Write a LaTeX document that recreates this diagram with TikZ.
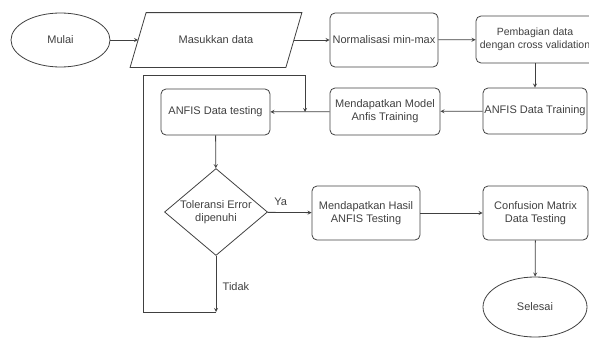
\documentclass[tikz,border=0pt]{standalone}
\usepackage{fontspec}
\setmainfont{Liberation Sans}
\usetikzlibrary{shapes.geometric}

\tikzset{
	proses/.style={draw=black!75, rounded corners=5pt, align=center, inner sep=1pt},
	terminal/.style={draw=black!75, ellipse, inner sep=0pt},
	data/.style={inner sep=0pt},
	keputusan/.style={draw=black!75, diamond, aspect=1.2, inner sep=0pt, align=center},
	garis/.style={->, draw=black!75},
}

\begin{document}
\begin{tikzpicture}[x=1pt, y=-1pt, >=stealth, line width=0.8pt,
	every node/.style={font=\fontsize{11}{13}\selectfont, text=black!75}]
	\useasboundingbox (0,0) rectangle (589,340);

	% 1. Baris atas
	\node[terminal, minimum width=99pt, minimum height=54pt] (mulai) at (60.5,40) {Mulai};
	\node[data, minimum width=155pt, minimum height=54pt] (masukan) at (216,40) {Masukkan data};
	\draw[draw=black!75] ([xshift=-8pt]masukan.south west) -- ([xshift=8pt]masukan.north west)
		-- ([xshift=8pt]masukan.north east) -- ([xshift=-8pt]masukan.south east) -- cycle;
	\node[proses, minimum width=108pt, minimum height=54pt] (normal) at (384,40) {Normalisasi min-max};
	\node[proses, minimum width=118pt, minimum height=47pt, font=\fontsize{10.5}{13}\selectfont] (bagi) at (535,39.5) {Pembagian data\\dengan cross validation};

	% 2. Baris tengah
	\node[proses, minimum width=104pt, minimum height=46pt] (training) at (535,111) {ANFIS Data Training};
	\node[proses, minimum width=110pt, minimum height=47pt] (model) at (385,111.5) {Mendapatkan Model\\Anfis Training};
	\node[proses, minimum width=109pt, minimum height=46pt] (testing) at (215.5,112) {ANFIS Data testing};

	% 3. Baris bawah
	\node[keputusan, minimum width=103pt, minimum height=87pt] (toleransi) at (216,212) {Toleransi Error\\dipenuhi};
	\node[proses, minimum width=108pt, minimum height=54pt] (hasil) at (366,213) {Mendapatkan Hasil\\ANFIS Testing};
	\node[proses, minimum width=105pt, minimum height=54pt] (confusion) at (535.5,213) {Confusion Matrix\\Data Testing};
	\node[terminal, minimum width=104pt, minimum height=60pt] (selesai) at (535,307) {Selesai};

	% 4. Titik bantu untuk loop
	\coordinate (tidakBawah) at (216,312);
	\coordinate (pojokKiri) at (143,75);
	\coordinate (masukTesting) at (305,112);

	% 5. Panah
	\draw[garis] (mulai) -- (masukan);
	\draw[garis] (masukan) -- (normal);
	\draw[garis] (normal) -- (bagi);
	\draw[garis] (bagi) -- (training);
	\draw[garis] (training) -- (model);
	\draw[garis] (model) -- (testing);
	\draw[garis] (testing) -- (toleransi);
	\draw[garis] (toleransi) -- node[above=3pt, pos=0.3] {Ya} (hasil);
	\draw[garis] (hasil) -- (confusion);
	\draw[garis] (confusion) -- (selesai);
	\draw[garis] (toleransi) -- node[right=3pt, pos=0.55] {Tidak} (tidakBawah);
	\draw[garis] (tidakBawah) -| (pojokKiri) -| (masukTesting);
\end{tikzpicture}
\end{document}
